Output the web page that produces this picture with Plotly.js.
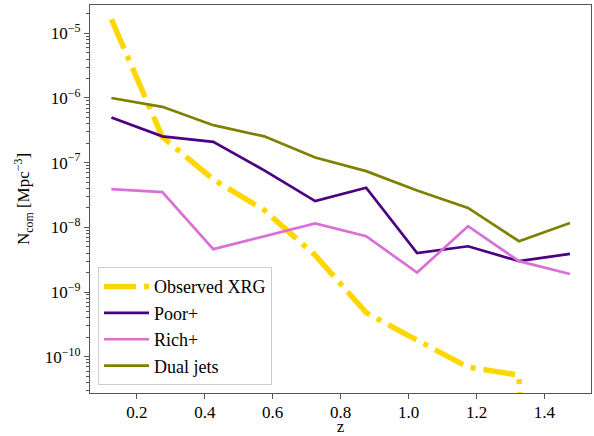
<!DOCTYPE html>
<html>
<head>
<meta charset="utf-8">
<script src="https://cdn.plot.ly/plotly-3.0.1.min.js"></script>
<style>html,body{margin:0;padding:0;background:#fff}#chart{width:594px;height:436px}</style>
</head>
<body>
<div id="chart"></div>
<script>
const z = [0.125, 0.275, 0.425, 0.575, 0.725, 0.875, 1.025, 1.175, 1.325, 1.475];
const observedXRG = [1.65e-5, 2.5e-7, 5.5e-8, 1.85e-8, 3.7e-9, 4.8e-10, 1.8e-10, 6.9e-11, 5.2e-11, 1e-30];
const poorPlus = [5.0e-7, 2.55e-7, 2.1e-7, 7.6e-8, 2.55e-8, 4.1e-8, 4.0e-9, 5.1e-9, 3.0e-9, 3.9e-9];
const richPlus = [3.9e-8, 3.5e-8, 4.6e-9, 7.2e-9, 1.15e-8, 7.3e-9, 2.0e-9, 1.04e-8, 3.0e-9, 1.9e-9];
const dualJets = [1.0e-6, 7.3e-7, 3.8e-7, 2.55e-7, 1.2e-7, 7.4e-8, 3.7e-8, 2.0e-8, 6.1e-9, 1.17e-8];
const seriesNames = ["Observed XRG", "Poor+", "Rich+", "Dual jets"];
const xTickVals = [0.2, 0.4, 0.6, 0.8, 1.0, 1.2, 1.4];
const xTickText = ["0.2", "0.4", "0.6", "0.8", "1.0", "1.2", "1.4"];
const yTickVals = [1e-10, 1e-9, 1e-8, 1e-7, 1e-6, 1e-5];
const yTickText = ["10<sup>−10</sup>", "10<sup>−9</sup>", "10<sup>−8</sup>", "10<sup>−7</sup>", "10<sup>−6</sup>", "10<sup>−5</sup>"];

const font = "Liberation Serif";
const traces = [
  {x: z, y: observedXRG, name: seriesNames[0], mode: "lines", line: {color: "#FFD700", width: 5.5, dash: "32px,8px,5px,8px"}},
  {x: z, y: poorPlus, name: seriesNames[1], mode: "lines", line: {color: "#4B0082", width: 2.7}},
  {x: z, y: richPlus, name: seriesNames[2], mode: "lines", line: {color: "#DA70D6", width: 2.7}},
  {x: z, y: dualJets, name: seriesNames[3], mode: "lines", line: {color: "#808000", width: 2.7}}
];
function axisCommon() {
  return {
    showline: true, linecolor: "#555", linewidth: 1.2, mirror: true,
    showgrid: false, zeroline: false, ticks: "outside", ticklen: 5, tickcolor: "#555", tickwidth: 1,
    tickfont: {family: font, size: 17, color: "#000"}
  };
}
const layout = {
  width: 594, height: 436,
  margin: {l: 90, r: 3, t: 5, b: 43},
  paper_bgcolor: "#fff", plot_bgcolor: "#fff",
  font: {family: font, color: "#000", size: 17},
  xaxis: Object.assign(axisCommon(), {
    range: [0.062, 1.537], tickmode: "array", tickvals: xTickVals, ticktext: xTickText,
    ticklabelstandoff: -2,
    title: {text: "z", font: {family: font, size: 17, color: "#000"}, standoff: 4}
  }),
  yaxis: Object.assign(axisCommon(), {
    type: "log", range: [-10.561, -4.5625], tickmode: "array", tickvals: yTickVals, ticktext: yTickText,
    minor: {ticks: "outside", ticklen: 2.5, tickcolor: "#555", dtick: "D1", showgrid: false},
    title: {text: "N<sub>com</sub> [Mpc<sup>−3</sup>]", font: {family: font, size: 17, color: "#000"}, standoff: 10}
  }),
  showlegend: true,
  legend: {
    x: 0.016, y: 0.02, xanchor: "left", yanchor: "bottom",
    bgcolor: "rgba(255,255,255,0.8)", bordercolor: "#ccc", borderwidth: 1,
    font: {family: font, size: 18, color: "#000"}, itemwidth: 45
  }
};
Plotly.newPlot("chart", traces, layout, {displayModeBar: false, staticPlot: true});
</script>
</body>
</html>
